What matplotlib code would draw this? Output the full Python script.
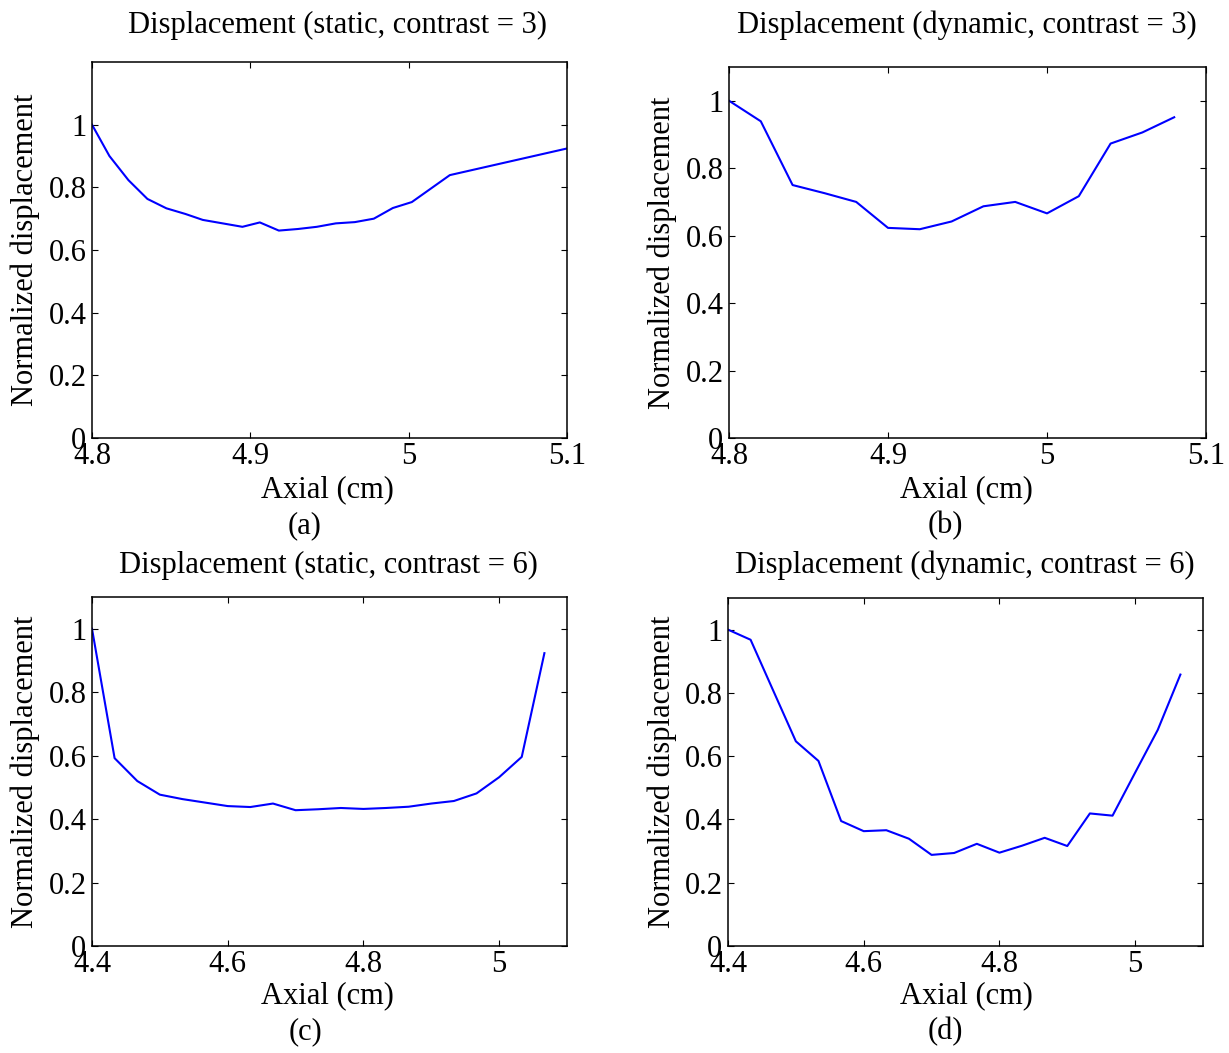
import matplotlib
matplotlib.use("Agg")
import matplotlib.pyplot as plt
from matplotlib.ticker import FixedLocator, FuncFormatter

plt.rcParams["font.family"] = ["Liberation Serif", "DejaVu Serif"]

# --- data -------------------------------------------------------------
# (a) static, contrast = 3
axial_a = [4.800, 4.811, 4.823, 4.835, 4.847, 4.859, 4.870, 4.895, 4.906,
           4.918, 4.930, 4.942, 4.954, 4.966, 4.978, 4.990, 5.002, 5.014,
           5.026, 5.100]
disp_a = [1.000, 0.900, 0.823, 0.763, 0.733, 0.715, 0.696, 0.674, 0.688,
          0.662, 0.667, 0.674, 0.685, 0.689, 0.700, 0.734, 0.753, 0.796,
          0.839, 0.924]

# (b) dynamic, contrast = 3
axial_b = [4.80, 4.82, 4.84, 4.86, 4.88, 4.90, 4.92, 4.94, 4.96, 4.98,
           5.00, 5.02, 5.04, 5.06, 5.08]
disp_b = [1.000, 0.939, 0.750, 0.726, 0.700, 0.623, 0.619, 0.642, 0.687,
          0.700, 0.666, 0.717, 0.873, 0.906, 0.951]

# (c) static, contrast = 6
axial_c = [4.4000, 4.4333, 4.4667, 4.5000, 4.5333, 4.5667, 4.6000, 4.6333,
           4.6667, 4.7000, 4.7333, 4.7667, 4.8000, 4.8333, 4.8667, 4.9000,
           4.9333, 4.9667, 5.0000, 5.0333, 5.0667]
disp_c = [1.000, 0.592, 0.520, 0.477, 0.463, 0.452, 0.441, 0.438, 0.449,
          0.428, 0.431, 0.435, 0.432, 0.435, 0.439, 0.449, 0.457, 0.481,
          0.532, 0.596, 0.923]

# (d) dynamic, contrast = 6
axial_d = axial_c
disp_d = [1.000, 0.968, 0.807, 0.647, 0.585, 0.395, 0.363, 0.366, 0.339,
          0.288, 0.294, 0.323, 0.295, 0.317, 0.342, 0.316, 0.419, 0.412,
          0.548, 0.683, 0.858]

titles = ["Displacement (static, contrast = 3)",
          "Displacement (dynamic, contrast = 3)",
          "Displacement (static, contrast = 6)",
          "Displacement (dynamic, contrast = 6)"]
panel_tags = ["(a)", "(b)", "(c)", "(d)"]
xticks_top = [4.8, 4.9, 5.0, 5.1]
xticks_bottom = [4.4, 4.6, 4.8, 5.0]
yticks = [0, 0.2, 0.4, 0.6, 0.8, 1.0]

# --- layout -----------------------------------------------------------
W, H = 1229, 1053
fig = plt.figure(figsize=(W / 100, H / 100), dpi=100)

# axes boxes in pixels: left, top, right, bottom
boxes = [(92, 62, 567, 438), (729, 67, 1206, 438),
         (92, 597, 567, 946), (728, 598, 1203, 946)]
# text centres in pixels
title_xy = [(338, 25), (967, 25), (328, 565), (965, 565)]
xlabel_xy = [(327, 490), (966, 490), (327, 996), (966, 996)]
tag_xy = [(305, 526), (945, 526), (305, 1032), (945, 1032)]
ylabel_x = [25, 662, 25, 662]

panels = [
    (axial_a, disp_a, (4.8, 5.1), (0, 1.2), xticks_top),
    (axial_b, disp_b, (4.8, 5.1), (0, 1.1), xticks_top),
    (axial_c, disp_c, (4.4, 5.1), (0, 1.1), xticks_bottom),
    (axial_d, disp_d, (4.4, 5.1), (0, 1.1), xticks_bottom),
]

FS = 22


def fmt(v, _pos):
    return "%g" % round(v, 3)


for i, (x, y, xl, yl, xt) in enumerate(panels):
    l, t, r, b = boxes[i]
    w, h = r - l, b - t
    ax = fig.add_axes([l / W, 1 - b / H, w / W, h / H])
    ax.plot(x, y, color=(0, 0, 1), linewidth=1.5)
    ax.set_xlim(*xl)
    ax.set_ylim(*yl)
    ax.xaxis.set_major_locator(FixedLocator(xt))
    ax.yaxis.set_major_locator(FixedLocator(yticks))
    ax.xaxis.set_major_formatter(FuncFormatter(fmt))
    ax.yaxis.set_major_formatter(FuncFormatter(fmt))
    ax.tick_params(direction="in", length=4, width=0.8, top=True, right=True,
                   labelsize=FS, pad=3, colors="black")
    ax.tick_params(axis="y", pad=4)
    for sp in ax.spines.values():
        sp.set_linewidth(1.1)

    def ax_xy(px, py):
        return (px - l) / w, (b - py) / h

    tx, ty = ax_xy(*title_xy[i])
    ax.set_title(titles[i], fontsize=FS, x=tx, y=ty, pad=0, va="center")
    ax.set_xlabel("Axial (cm)", fontsize=FS)
    ax.xaxis.set_label_coords(*ax_xy(*xlabel_xy[i]))
    ax.xaxis.label.set_va("center")
    ax.set_ylabel("Normalized displacement", fontsize=FS)
    ax.yaxis.set_label_coords((ylabel_x[i] - l) / w, 0.5)
    ax.yaxis.label.set_va("center")
    gx, gy = ax_xy(*tag_xy[i])
    ax.text(gx, gy, panel_tags[i], transform=ax.transAxes,
            ha="center", va="center", fontsize=FS)

fig.savefig("out.png", dpi=100, facecolor="white")
